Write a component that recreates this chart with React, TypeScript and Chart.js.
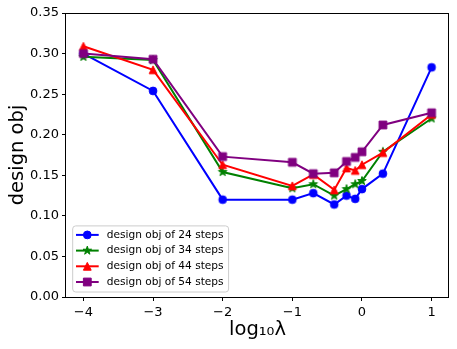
import React, { useEffect, useRef } from 'react';
import { Chart, registerables } from 'chart.js';

Chart.register(...registerables);

// ---- data ----
const lambdaValues = [1e-4, 1e-3, 1e-2, 0.1, 0.2, 0.4, 0.6, 0.8, 1, 2, 10];
const obj24 = [0.300, 0.254, 0.120, 0.120, 0.128, 0.114, 0.125, 0.121, 0.133, 0.152, 0.283];
const obj34 = [0.296, 0.292, 0.154, 0.134, 0.139, 0.125, 0.133, 0.139, 0.143, 0.179, 0.220];
const obj44 = [0.309, 0.280, 0.163, 0.137, 0.151, 0.132, 0.159, 0.156, 0.163, 0.178, 0.225];
const obj54 = [0.300, 0.293, 0.173, 0.166, 0.152, 0.153, 0.167, 0.172, 0.179, 0.212, 0.227];
const seriesLabels = [
  'design obj of 24 steps',
  'design obj of 34 steps',
  'design obj of 44 steps',
  'design obj of 54 steps',
];
const xTicks = [-4, -3, -2, -1, 0, 1];
const yTicks = [0, 0.05, 0.1, 0.15, 0.2, 0.25, 0.3, 0.35];

const W = 457;
const H = 349;
const FONT = "'DejaVu Sans', sans-serif";
const colors = ['#0000ff', '#008000', '#ff0000', '#800080'];
const markers = ['circle', 'star', 'triangle', 'square'];
const MS = 3.9; // half marker size

function drawMarker(ctx: CanvasRenderingContext2D, kind: string, cx: number, cy: number, color: string) {
  ctx.save();
  ctx.fillStyle = color;
  ctx.strokeStyle = color;
  ctx.lineWidth = 1;
  ctx.lineJoin = 'miter';
  ctx.beginPath();
  if (kind === 'circle') {
    ctx.arc(cx, cy, MS, 0, Math.PI * 2);
  } else if (kind === 'square') {
    ctx.rect(cx - MS, cy - MS, 2 * MS, 2 * MS);
  } else if (kind === 'triangle') {
    ctx.moveTo(cx, cy - MS);
    ctx.lineTo(cx - MS, cy + MS);
    ctx.lineTo(cx + MS, cy + MS);
    ctx.closePath();
  } else {
    const outer = MS + 0.6;
    const inner = outer * 0.381966;
    for (let k = 0; k < 10; k++) {
      const r = k % 2 === 0 ? outer : inner;
      const ang = -Math.PI / 2 + (k * Math.PI) / 5;
      const px = cx + r * Math.cos(ang);
      const py = cy + r * Math.sin(ang);
      if (k === 0) ctx.moveTo(px, py);
      else ctx.lineTo(px, py);
    }
    ctx.closePath();
  }
  ctx.fill();
  ctx.stroke();
  ctx.restore();
}

function makeMarkerImage(kind: string, color: string): HTMLCanvasElement {
  const c = document.createElement('canvas');
  c.width = 14;
  c.height = 14;
  const g = c.getContext('2d')!;
  drawMarker(g, kind, 7, 7, color);
  return c;
}

const fmtX = (v: number) => (v < 0 ? '\u2212' + Math.abs(v) : String(v));

const framePlugin = {
  id: 'frameBox',
  afterDraw(chart: any) {
    const { ctx, chartArea: a } = chart;
    ctx.save();
    ctx.strokeStyle = '#000';
    ctx.lineWidth = 1;
    ctx.strokeRect(Math.round(a.left) - 0.5, Math.round(a.top) + 0.5, Math.round(a.right - a.left), Math.round(a.bottom - a.top));
    ctx.restore();
  },
};

const insetLegendPlugin = {
  id: 'insetLegend',
  afterDraw(chart: any) {
    const { ctx, chartArea: a } = chart;
    const ds = chart.data.datasets as any[];
    const items = [...ds].sort((p, q) => p.legendIndex - q.legendIndex);
    ctx.save();
    ctx.font = `10.6px ${FONT}`;
    const textW = Math.max(...items.map((d) => ctx.measureText(d.label).width));
    const rowH = 15.7;
    const padTop = 9;
    const padBottom = 10;
    const h = padTop + rowH * (items.length - 1) + padBottom;
    const x0 = a.left + 6.7;
    const y0 = a.bottom - 5 - h;
    const w = 34 + textW + 5;
    ctx.beginPath();
    ctx.roundRect(x0, y0, w, h, 3);
    ctx.fillStyle = 'rgba(255,255,255,0.8)';
    ctx.fill();
    ctx.strokeStyle = '#cccccc';
    ctx.lineWidth = 1;
    ctx.stroke();
    items.forEach((d, i) => {
      const cy = y0 + padTop + i * rowH;
      ctx.strokeStyle = d.borderColor;
      ctx.lineWidth = 2;
      ctx.beginPath();
      ctx.moveTo(x0 + 3.3, cy);
      ctx.lineTo(x0 + 26, cy);
      ctx.stroke();
      drawMarker(ctx, d.markerKind, x0 + 14.6, cy, d.borderColor);
      ctx.fillStyle = '#000';
      ctx.textBaseline = 'middle';
      ctx.textAlign = 'left';
      ctx.fillText(d.label, x0 + 34, cy);
    });
    ctx.restore();
  },
};

export default function App() {
  const ref = useRef<HTMLCanvasElement>(null);

  useEffect(() => {
    const canvas = ref.current!;
    const xs = lambdaValues.map((l) => Math.log10(l));
    const all = [obj24, obj34, obj44, obj54];
    const datasets = all.map((vals, i) => ({
      label: seriesLabels[i],
      data: xs.map((x, j) => ({ x, y: vals[j] })),
      borderColor: colors[i],
      backgroundColor: colors[i],
      borderWidth: 2,
      pointStyle: makeMarkerImage(markers[i], colors[i]),
      pointRadius: 4,
      pointHoverRadius: 4,
      tension: 0,
      fill: false,
      order: all.length - 1 - i,
      legendIndex: i,
      markerKind: markers[i],
    }));

    const chart = new Chart(canvas, {
      type: 'line',
      data: { datasets } as any,
      plugins: [framePlugin, insetLegendPlugin],
      options: {
        animation: false,
        responsive: false,
        maintainAspectRatio: false,
        layout: { padding: { top: 13, right: 8, left: 0, bottom: 0 } },
        plugins: {
          legend: { display: false },
          tooltip: { enabled: false },
        },
        scales: {
          x: {
            type: 'linear',
            min: -4.25,
            max: 1.25,
            afterBuildTicks: (s: any) => {
              s.ticks = xTicks.map((v) => ({ value: v }));
            },
            afterFit: (s: any) => {
              s.height = 52;
            },
            ticks: {
              callback: (v: any) => fmtX(Number(v)),
              font: { size: 13, family: FONT },
              color: '#000',
              padding: 4,
              maxRotation: 0,
              autoSkip: false,
            },
            grid: {
              display: true,
              drawOnChartArea: false,
              drawTicks: true,
              tickLength: 4,
              tickColor: '#000',
              tickWidth: 1,
            },
            border: { display: false },
            title: {
              display: true,
              text: 'log\u2081\u2080\u03bb',
              font: { size: 19.5, family: FONT },
              color: '#000',
              padding: { top: 0, bottom: 7 },
            },
          },
          y: {
            type: 'linear',
            min: 0,
            max: 0.35,
            afterBuildTicks: (s: any) => {
              s.ticks = yTicks.map((v) => ({ value: v }));
            },
            afterFit: (s: any) => {
              s.width = 66;
            },
            ticks: {
              callback: (v: any) => Number(v).toFixed(2),
              font: { size: 13, family: FONT },
              color: '#000',
              padding: 3,
              autoSkip: false,
            },
            grid: {
              display: true,
              drawOnChartArea: false,
              drawTicks: true,
              tickLength: 4,
              tickColor: '#000',
              tickWidth: 1,
            },
            border: { display: false },
            title: {
              display: true,
              text: 'design obj',
              font: { size: 19.5, family: FONT },
              color: '#000',
              padding: { top: 6, bottom: 0 },
            },
          },
        },
      } as any,
    });
    return () => chart.destroy();
  }, []);

  return (
    <div style={{ position: 'fixed', left: 0, top: 0, width: W, height: H, background: '#fff' }}>
      <canvas ref={ref} width={W} height={H} style={{ display: 'block', width: W, height: H }} />
    </div>
  );
}
